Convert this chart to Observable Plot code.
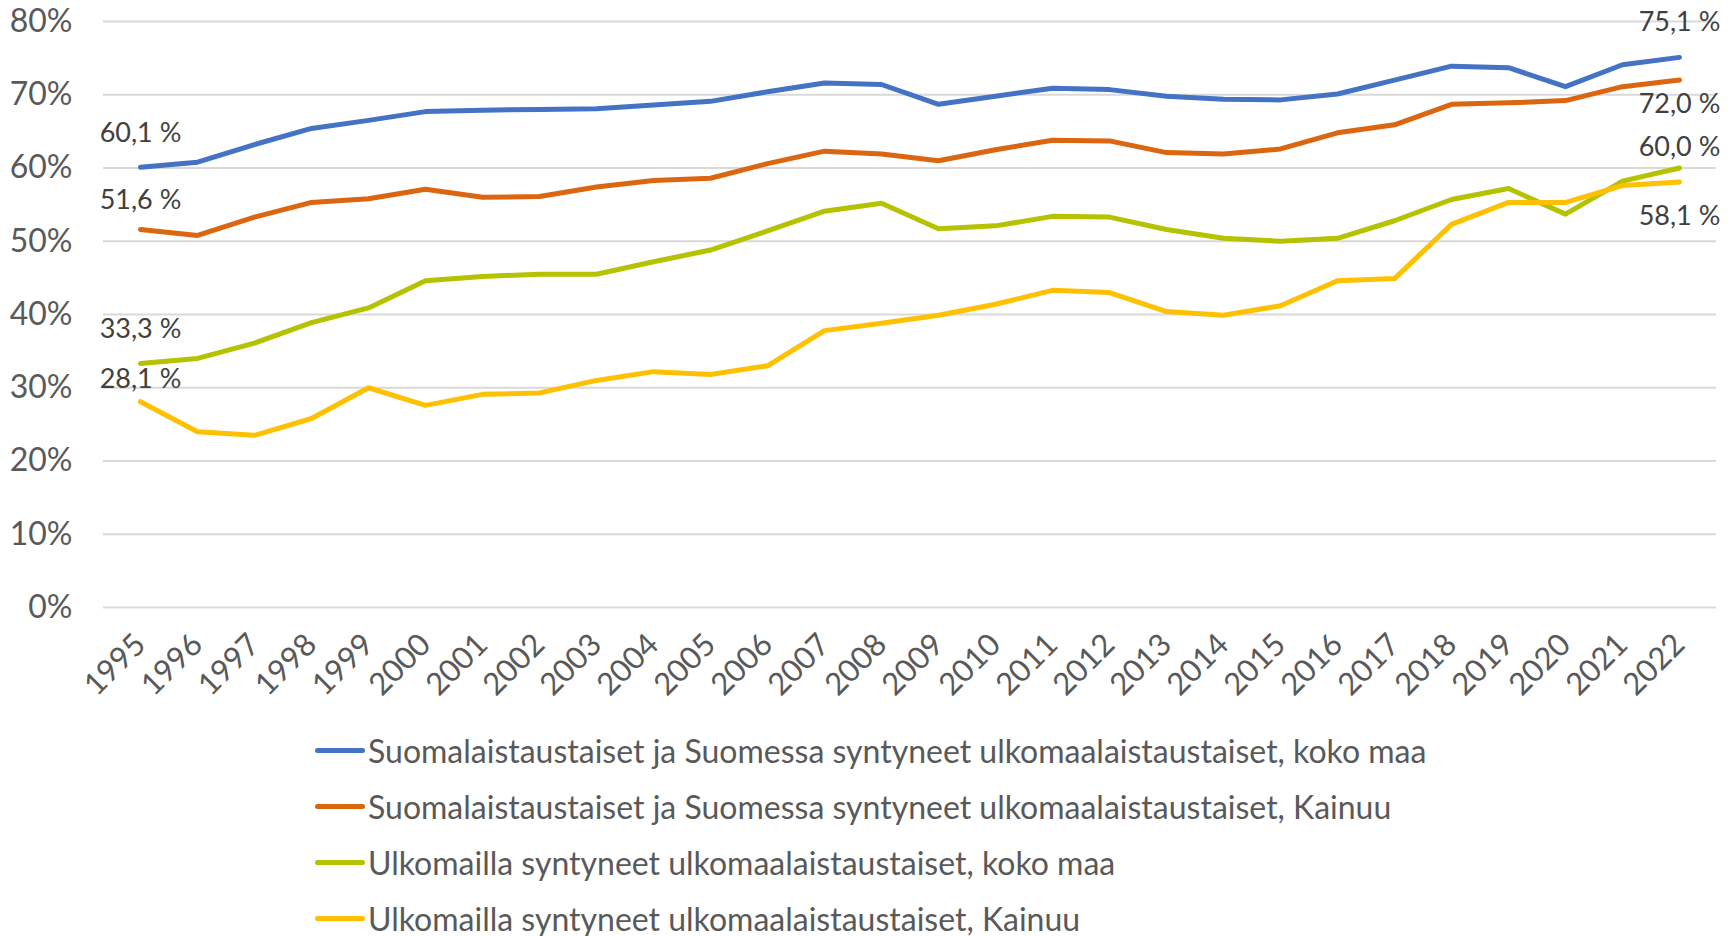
<!DOCTYPE html>
<html><head><meta charset="utf-8">
<script src="https://cdn.jsdelivr.net/npm/d3@7"></script>
<script src="https://cdn.jsdelivr.net/npm/@observablehq/plot@0.6"></script>
<style>
body{margin:0;background:#fff;font-family:Lato, sans-serif;}
#legend{margin-left:315px;}
.item{display:flex;align-items:center;height:56.2px;font-size:32px;color:#595959;white-space:nowrap;}
.sw{width:50px;height:5px;border-radius:3px;margin-right:3px;flex:none;}
</style></head>
<body><div id="chart"></div><div id="legend"></div>
<script>
const years = [1995,1996,1997,1998,1999,2000,2001,2002,2003,2004,2005,2006,2007,2008,2009,2010,2011,2012,2013,2014,2015,2016,2017,2018,2019,2020,2021,2022];
const seriesNames = [
  "Suomalaistaustaiset ja Suomessa syntyneet ulkomaalaistaustaiset, koko maa",
  "Suomalaistaustaiset ja Suomessa syntyneet ulkomaalaistaustaiset, Kainuu",
  "Ulkomailla syntyneet ulkomaalaistaustaiset, koko maa",
  "Ulkomailla syntyneet ulkomaalaistaustaiset, Kainuu"
];
const seriesColors = ["#4472c4", "#dc6510", "#b4c200", "#ffc000"];
const suomiKokoMaa = [60.1,60.8,63.2,65.4,66.5,67.7,67.9,68.0,68.1,68.6,69.1,70.4,71.6,71.4,68.7,69.8,70.9,70.7,69.8,69.4,69.3,70.1,72.0,73.9,73.7,71.1,74.1,75.1];
const suomiKainuu = [51.6,50.8,53.3,55.3,55.8,57.1,56.0,56.1,57.4,58.3,58.6,60.6,62.3,61.9,61.0,62.5,63.8,63.7,62.1,61.9,62.6,64.8,65.9,68.7,68.9,69.2,71.1,72.0];
const ulkoKokoMaa = [33.3,34.0,36.1,38.9,40.9,44.6,45.2,45.5,45.5,47.2,48.8,51.4,54.1,55.2,51.7,52.1,53.4,53.3,51.6,50.4,50.0,50.4,52.8,55.7,57.2,53.7,58.2,60.0];
const ulkoKainuu = [28.1,24.0,23.5,25.8,30.0,27.6,29.1,29.3,31.0,32.2,31.8,33.0,37.8,38.8,39.9,41.4,43.3,43.0,40.4,39.9,41.2,44.6,44.9,52.3,55.3,55.3,57.6,58.1];
const yTicks = [0,10,20,30,40,50,60,70,80];

const seriesValues = [suomiKokoMaa, suomiKainuu, ulkoKokoMaa, ulkoKainuu];
const rows = [];
seriesNames.forEach((name, i) => years.forEach((year, j) => rows.push({series: name, year, value: seriesValues[i][j]})));

// end labels (first and last year of each series); vertical offsets are styling
const startOffsets = [-34, -29, -34, -22];
const endOffsets = [-35, 24, -21, 34];
const fmt = v => v.toFixed(1).replace(".", ",") + " %";
const labels = [];
seriesNames.forEach((name, i) => {
  const v = seriesValues[i];
  labels.push({series: name, year: years[0], value: v[0], dy: startOffsets[i]});
  labels.push({series: name, year: years[years.length - 1], value: v[v.length - 1], dy: endOffsets[i]});
});

const textMarks = labels.map(d => Plot.text([d], {x: "year", y: "value", text: d => fmt(d.value), dy: d.dy, fill: "#404040", fontSize: 27, textAnchor: "middle"}));

const chart = Plot.plot({
  width: 1734,
  height: 722,
  marginLeft: 103,
  marginRight: 18,
  marginTop: 21,
  marginBottom: 115,
  style: {fontFamily: "Lato, sans-serif", fontSize: "28px", background: "#fff", overflow: "visible"},
  x: {type: "point", domain: years, padding: 0.5},
  y: {domain: [0, 80]},
  color: {domain: seriesNames, range: seriesColors},
  marks: [
    Plot.ruleY(yTicks, {stroke: "#d9d9d9", strokeWidth: 2}),
    Plot.axisY({ticks: yTicks, tickSize: 0, tickPadding: 31, tickFormat: d => d + "%", fill: "#595959", fontSize: 32, label: null}),
    Plot.axisX({ticks: years, tickSize: 0, tickPadding: 32, tickRotate: -45, tickFormat: d => String(d), fill: "#595959", fontSize: 31, label: null}),
    Plot.line(rows, {x: "year", y: "value", z: "series", stroke: "series", strokeWidth: 5, strokeLinecap: "round", strokeLinejoin: "round"}),
    ...textMarks
  ]
});
document.getElementById("chart").appendChild(chart);

const legend = document.getElementById("legend");
seriesNames.forEach((name, i) => {
  const item = document.createElement("div");
  item.className = "item";
  const sw = document.createElement("span");
  sw.className = "sw";
  sw.style.background = seriesColors[i];
  const t = document.createElement("span");
  t.textContent = name;
  item.appendChild(sw); item.appendChild(t);
  legend.appendChild(item);
});
</script></body></html>
